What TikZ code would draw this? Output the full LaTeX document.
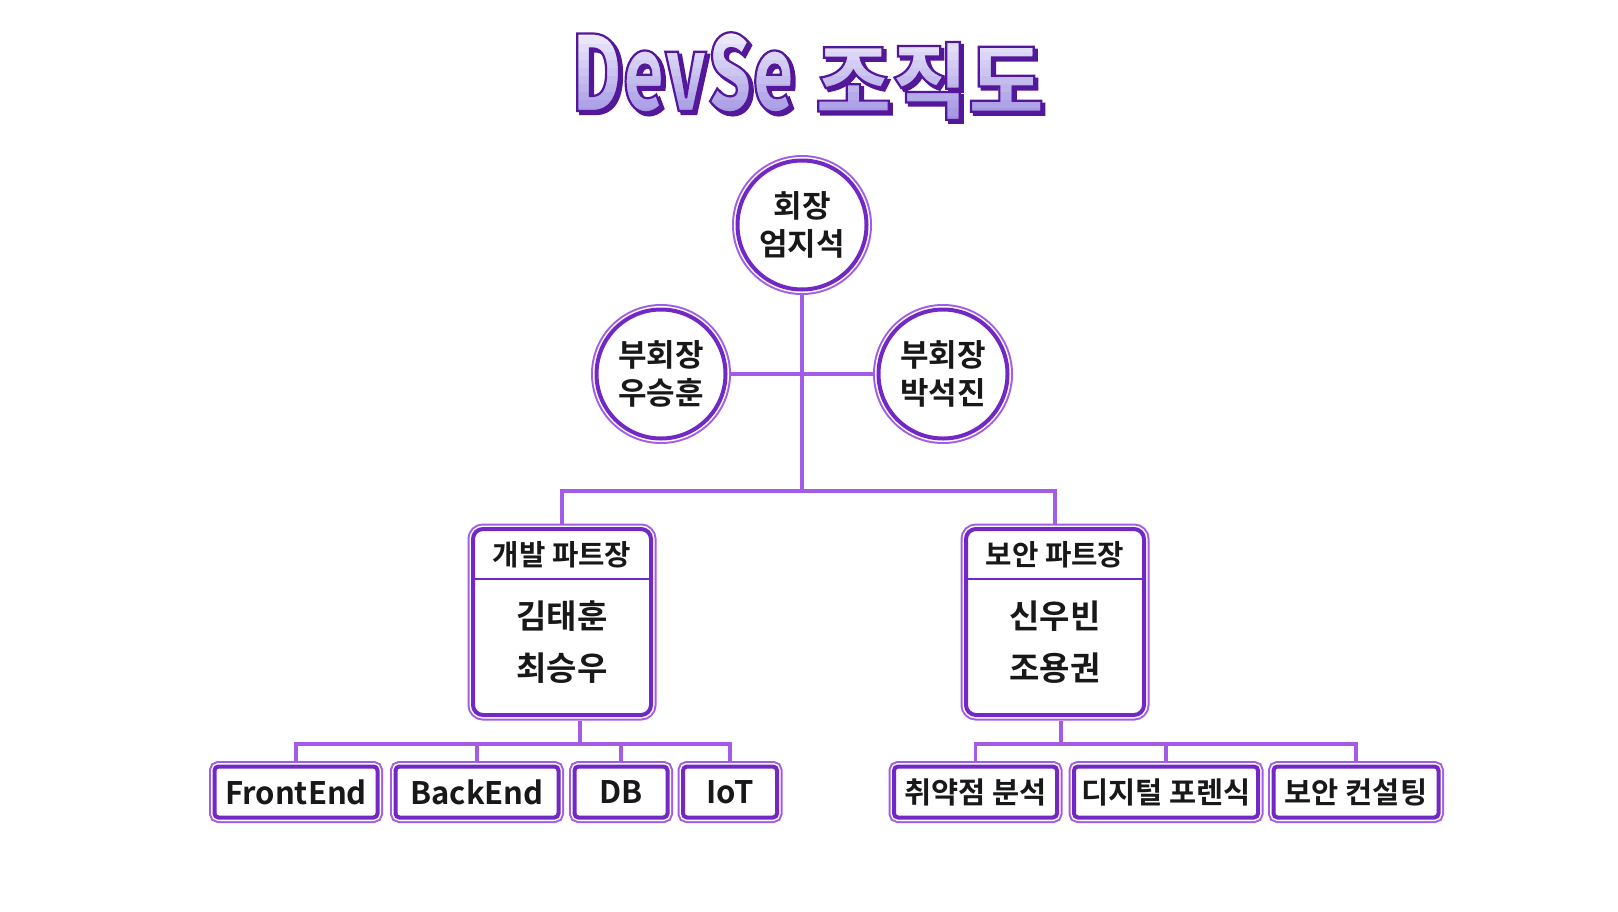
\documentclass[tikz,border=0pt]{standalone}
\usepackage{fontspec}
\usepackage{tikz}
\usetikzlibrary{positioning}

\setmainfont{Noto Sans CJK KR Bold}
\newfontfamily\titlelatin{Noto Sans CJK KR Black}[FakeStretch=0.68]
\newfontfamily\titlekorean{Noto Sans CJK KR Black}

\definecolor{linepurple}{RGB}{163,92,232}
\definecolor{ringpurple}{RGB}{114,40,196}
\definecolor{textgray}{RGB}{24,24,24}
\definecolor{titletop}{RGB}{242,240,252}
\definecolor{titlebottom}{RGB}{160,146,226}
\definecolor{titleshade}{RGB}{84,26,156}

% contour of the title letters
\newcommand{\strokedtext}[1]{\special{pdf:literal direct 0.33 0.09 0.6 RG 2.2 w 2 Tr}#1\special{pdf:literal direct 0 Tr}}
\newcommand{\edgetext}[1]{\special{pdf:literal direct 0.33 0.09 0.6 RG 2.2 w 1 Tr}#1\special{pdf:literal direct 0 Tr}}
\newcommand{\latintitle}{\titlelatin\fontsize{104}{104}\selectfont}
\newcommand{\koreantitle}{\titlekorean\fontsize{83}{83}\selectfont}

\tikzset{
  ring/.style={draw=ringpurple, line width=4pt, fill=white, outer sep=0pt,
    preaction={draw=linepurple, line width=11pt},
    preaction={draw=white, line width=7pt}},
  person/.style={ring, circle, minimum size=129pt, inner sep=0pt, align=center,
    text=textgray, font=\fontsize{31}{38}\selectfont},
  partbox/.style={ring, rectangle, rounded corners=10pt, minimum width=178pt, minimum height=186pt},
  teambox/.style={ring, rectangle, rounded corners=4pt, minimum height=51pt, inner sep=0pt,
    text=textgray, font=\fontsize{29.5}{30}\selectfont},
  latinteam/.style={teambox, font=\fontsize{31}{32}\selectfont},
  headtext/.style={text=textgray, font=\fontsize{28.7}{30}\selectfont},
  nametext/.style={text=textgray, font=\fontsize{33}{36}\selectfont},
  titlepart/.style={anchor=base west, inner sep=0pt},
  link/.style={draw=linepurple, line width=3.5pt},
  divider/.style={draw=ringpurple, line width=2pt},
}

\begin{document}
\begin{tikzpicture}[x=1pt, y=-1pt]
  \useasboundingbox (0,0) rectangle (1618,911);

  % Titulo: sombra, relleno en bandas, contorno
  \node[titlepart, text=titleshade] (shadowdevse) at (574,114) {\latintitle\strokedtext{DevSe}};
  \node[titlepart, text=titleshade] (shadowchart) at (818,115) {\koreantitle\strokedtext{조직도}};
  \foreach \k in {0,...,11} {
    \pgfmathtruncatemacro\pct{100-\k*100/11}
    \begin{scope}
      \clip (540,{28+\k*8}) rectangle (1080,{37+\k*8});
      \node[titlepart, text=titletop!\pct!titlebottom] (devseband\k) at (571,111) {\latintitle DevSe};
      \node[titlepart, text=titletop!\pct!titlebottom] (chartband\k) at (815,112) {\koreantitle 조직도};
    \end{scope}
  }
  \node[titlepart] (devse) at (571,111) {\latintitle\edgetext{DevSe}};
  \node[titlepart] (chart) at (815,112) {\koreantitle\edgetext{조직도}};

  % Personas
  \node[person] (ceo) at (802,225) {회장\\엄지석};
  \node[person] (vpleft) at (661,374) {부회장\\우승훈};
  \node[person] (vpright) at (943,374) {부회장\\박석진};

  % Partes
  \node[partbox] (dev) at (562,622) {};
  \node[partbox] (sec) at (1055,622) {};
  \draw[divider] (dev.west |- 0,579) -- (dev.east |- 0,579);
  \draw[divider] (sec.west |- 0,579) -- (sec.east |- 0,579);
  \node[headtext] (devhead) at (562,555) {개발 파트장};
  \node[headtext] (sechead) at (1055,555) {보안 파트장};
  \node[nametext] (devname1) at (562,616) {김태훈};
  \node[nametext] (devname2) at (562,668) {최승우};
  \node[nametext] (secname1) at (1055,616) {신우빈};
  \node[nametext] (secname2) at (1055,668) {조용권};

  % Equipos
  \node[latinteam, minimum width=163pt] (front) at (296,792) {FrontEnd};
  \node[latinteam, minimum width=163pt] (back) at (477,792) {BackEnd};
  \node[latinteam, minimum width=93pt] (db) at (621,792) {DB};
  \node[latinteam, minimum width=94pt] (iot) at (730,792) {IoT};
  \node[teambox, minimum width=163pt] (vuln) at (975.5,792) {취약점 분석};
  \node[teambox, minimum width=184pt] (forensic) at (1166,792) {디지털 포렌식};
  \node[teambox, minimum width=165pt] (consult) at (1356,792) {보안 컨설팅};

  % Conexiones
  \coordinate (split) at (802,491);
  \coordinate (devbus) at (580,744);
  \coordinate (secbus) at (1061,744);
  \draw[link, shorten <=5.5pt] (ceo.south) -- (split);
  \draw[link, shorten <=5.5pt, shorten >=5.5pt] (vpleft.east) -- (vpright.west);
  \draw[link, shorten >=5.5pt] (split) -| (dev.north);
  \draw[link, shorten >=5.5pt] (split) -| (sec.north);
  \draw[link, shorten <=5.5pt] (dev.south -| devbus) -- (devbus);
  \draw[link, shorten <=5.5pt] (sec.south -| secbus) -- (secbus);
  \foreach \team in {front, back, db, iot}
    \draw[link, shorten >=5.5pt] (devbus) -| (\team.north);
  \foreach \team in {vuln, forensic, consult}
    \draw[link, shorten >=5.5pt] (secbus) -| (\team.north);
\end{tikzpicture}
\end{document}
